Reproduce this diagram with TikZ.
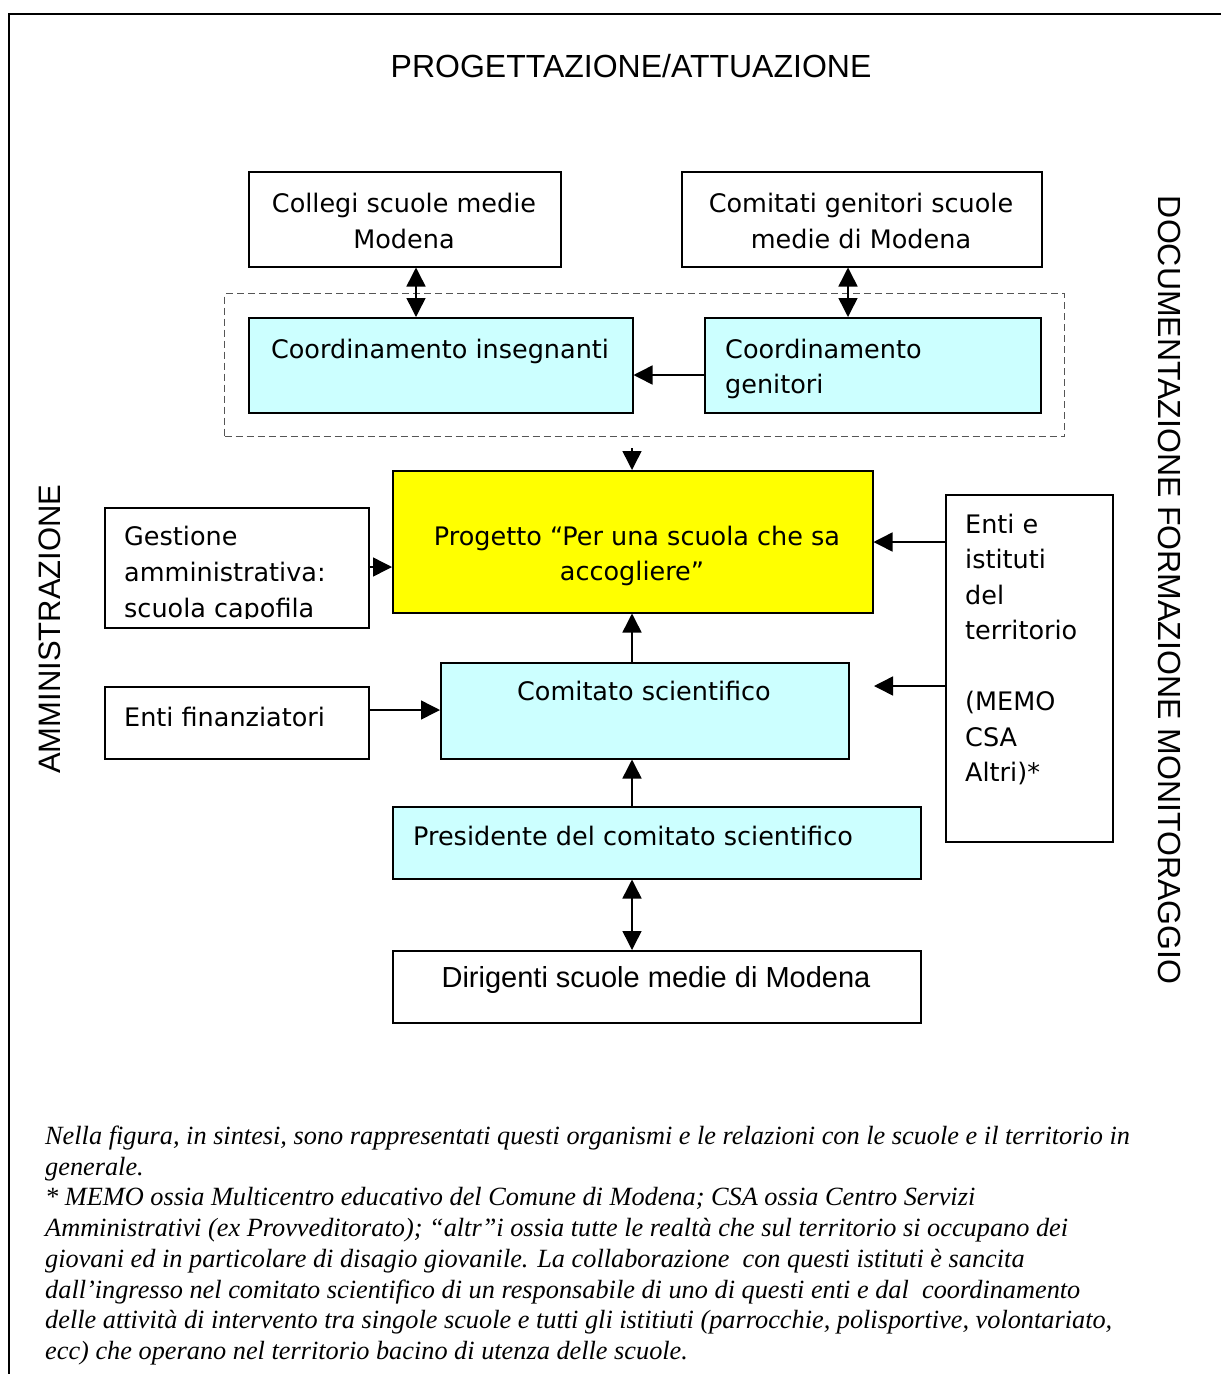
\documentclass[tikz,border=0pt]{standalone}
\usepackage{fontspec}
\setmainfont{Liberation Serif}
\newfontfamily\boxfont{DejaVu Sans}
\newfontfamily\arialfont{Liberation Sans}
\usetikzlibrary{arrows.meta}
\definecolor{cyanbox}{HTML}{CCFFFF}
\definecolor{yellowbox}{HTML}{FFFF00}
\definecolor{dashgray}{HTML}{555555}
\tikzset{
  box/.style={draw=black, line width=1.5pt, inner sep=0pt, anchor=north west},
  wbox/.style={box, fill=white},
  cbox/.style={box, fill=cyanbox},
  ybox/.style={box, fill=yellowbox},
  grp/.style={draw=dashgray, line width=1.2pt, dash pattern=on 7pt off 4pt, inner sep=0pt, anchor=north west},
  arr/.style={line width=1.5pt, -{Triangle[length=19pt,width=19pt]}},
  darr/.style={line width=1.5pt, {Triangle[length=19pt,width=19pt]}-{Triangle[length=19pt,width=19pt]}},
  btc/.style={font=\boxfont\fontsize{25.5}{30}\selectfont, inner sep=0pt, anchor=base},
  btl/.style={font=\boxfont\fontsize{25.5}{30}\selectfont, inner sep=0pt, anchor=base west},
  atxt/.style={font=\arialfont\fontsize{32}{38}\selectfont, inner sep=0pt},
  captxt/.style={font=\itshape\fontsize{26.3}{31}\selectfont, inner sep=0pt, anchor=base west},
}
\begin{document}
\begin{tikzpicture}[x=1pt,y=-1pt]
\useasboundingbox (0,0) rectangle (1221,1374);
% frame
\draw[line width=2.5pt] (1221,14) -- (9,14) -- (9,1374);
% titles
\node[atxt, anchor=base] (title) at (631,77) {PROGETTAZIONE/ATTUAZIONE};
\node[atxt, rotate=-90] (doc) at (1170,590) {DOCUMENTAZIONE FORMAZIONE MONITORAGGIO};
\node[atxt, font=\arialfont\fontsize{31}{36}\selectfont, rotate=90] (amm) at (50,629) {AMMINISTRAZIONE};
% boxes
\node[grp, minimum width=840pt, minimum height=143pt] (group) at (224,293) {};
\node[wbox, minimum width=312pt, minimum height=95pt] (collegi) at (248,171) {};
\node[wbox, minimum width=360pt, minimum height=95pt] (comitati) at (681,171) {};
\node[cbox, minimum width=384pt, minimum height=95pt] (coordins) at (248,317) {};
\node[cbox, minimum width=336pt, minimum height=95pt] (coordgen) at (704,317) {};
\node[ybox, minimum width=480pt, minimum height=142pt] (prog) at (392,470) {};
\node[wbox, minimum width=264pt, minimum height=120pt] (gest) at (104,507) {};
\node[wbox, minimum width=264pt, minimum height=72pt] (fin) at (104,686) {};
\node[cbox, minimum width=408pt, minimum height=96pt] (comsci) at (440,662) {};
\node[wbox, minimum width=167pt, minimum height=347pt] (enti) at (945,494) {};
\node[cbox, minimum width=528pt, minimum height=72pt] (pres) at (392,806) {};
\node[wbox, minimum width=528pt, minimum height=72pt] (dir) at (392,950) {};
% box texts
\node[btc] (tcol1) at (404,212) {Collegi scuole medie};
\node[btc] (tcol2) at (404,248) {Modena};
\node[btc] (tcom1) at (861,212) {Comitati genitori scuole};
\node[btc] (tcom2) at (861,248) {medie di Modena};
\node[btc] (tci) at (440,358) {Coordinamento insegnanti};
\node[btl] (tcg1) at (725,358) {Coordinamento};
\node[btl] (tcg2) at (725,393) {genitori};
\node[btc] (tpr1) at (637,545) {Progetto “Per una scuola che sa};
\node[btc] (tpr2) at (632,580) {accogliere”};
\begin{scope}
\clip (104,507) rectangle (368,618);
\node[btl] (tge1) at (124,545) {Gestione};
\node[btl] (tge2) at (124,581) {amministrativa:};
\node[btl] (tge3) at (124,617) {scuola capofila};
\end{scope}
\node[btl] (tfin) at (124,726) {Enti finanziatori};
\node[btc] (tcs) at (644,700) {Comitato scientifico};
\node[btl] (ten1) at (965,533) {Enti e};
\node[btl] (ten2) at (965,568.5) {istituti};
\node[btl] (ten3) at (965,604) {del};
\node[btl] (ten4) at (965,639.5) {territorio};
\node[btl] (ten5) at (965,710.5) {(MEMO};
\node[btl] (ten6) at (965,746) {CSA};
\node[btl] (ten7) at (965,781.5) {Altri)*};
\node[btl] (tpres) at (413,845) {Presidente del comitato scientifico};
\node[atxt, font=\arialfont\fontsize{29}{34}\selectfont, anchor=base] (tdir) at (656,987) {Dirigenti scuole medie di Modena};
% guides
\coordinate (xa) at (416,0);
\coordinate (xb) at (848,0);
\coordinate (xc) at (632,0);
\coordinate (ya) at (0,375);
\coordinate (yb) at (0,567);
\coordinate (yc) at (0,542);
\coordinate (ye) at (0,710);
\coordinate (free) at (874,686);
% connectors
\draw[darr] (collegi.south -| xa) -- (coordins.north -| xa);
\draw[darr] (comitati.south -| xb) -- (coordgen.north -| xb);
\draw[arr] (coordgen.west |- ya) -- (coordins.east |- ya);
\draw[arr] (group.south -| xc) ++(0,11) -- (prog.north -| xc);
\draw[arr] (gest.east |- yb) -- (prog.west |- yb);
\draw[arr] (enti.west |- yc) -- (prog.east |- yc);
\draw[arr] (enti.west |- free) -- (free);
\draw[arr] (comsci.north -| xc) -- (prog.south -| xc);
\draw[arr] (fin.east |- ye) -- (comsci.west |- ye);
\draw[arr] (pres.north -| xc) -- (comsci.south -| xc);
\draw[darr] (pres.south -| xc) -- (dir.north -| xc);
% caption
\node[captxt] (c1) at (45,1144) {Nella figura, in sintesi, sono rappresentati questi organismi e le relazioni con le scuole e il territorio in};
\node[captxt] (c2) at (45,1175) {generale.};
\node[captxt] (c3) at (45,1205) {* MEMO ossia Multicentro educativo del Comune di Modena; CSA ossia Centro Servizi};
\node[captxt] (c4) at (45,1236) {Amministrativi (ex Provveditorato); “altr”i ossia tutte le realtà che sul territorio si occupano dei};
\node[captxt] (c5) at (45,1267) {giovani ed in particolare di disagio giovanile. La collaborazione\ \ con questi istituti è sancita};
\node[captxt] (c6) at (45,1298) {dall’ingresso nel comitato scientifico di un responsabile di uno di questi enti e dal\ \ coordinamento};
\node[captxt] (c7) at (45,1328) {delle attività di intervento tra singole scuole e tutti gli istitiuti (parrocchie, polisportive, volontariato,};
\node[captxt] (c8) at (45,1359) {ecc) che operano nel territorio bacino di utenza delle scuole.};
\end{tikzpicture}
\end{document}
